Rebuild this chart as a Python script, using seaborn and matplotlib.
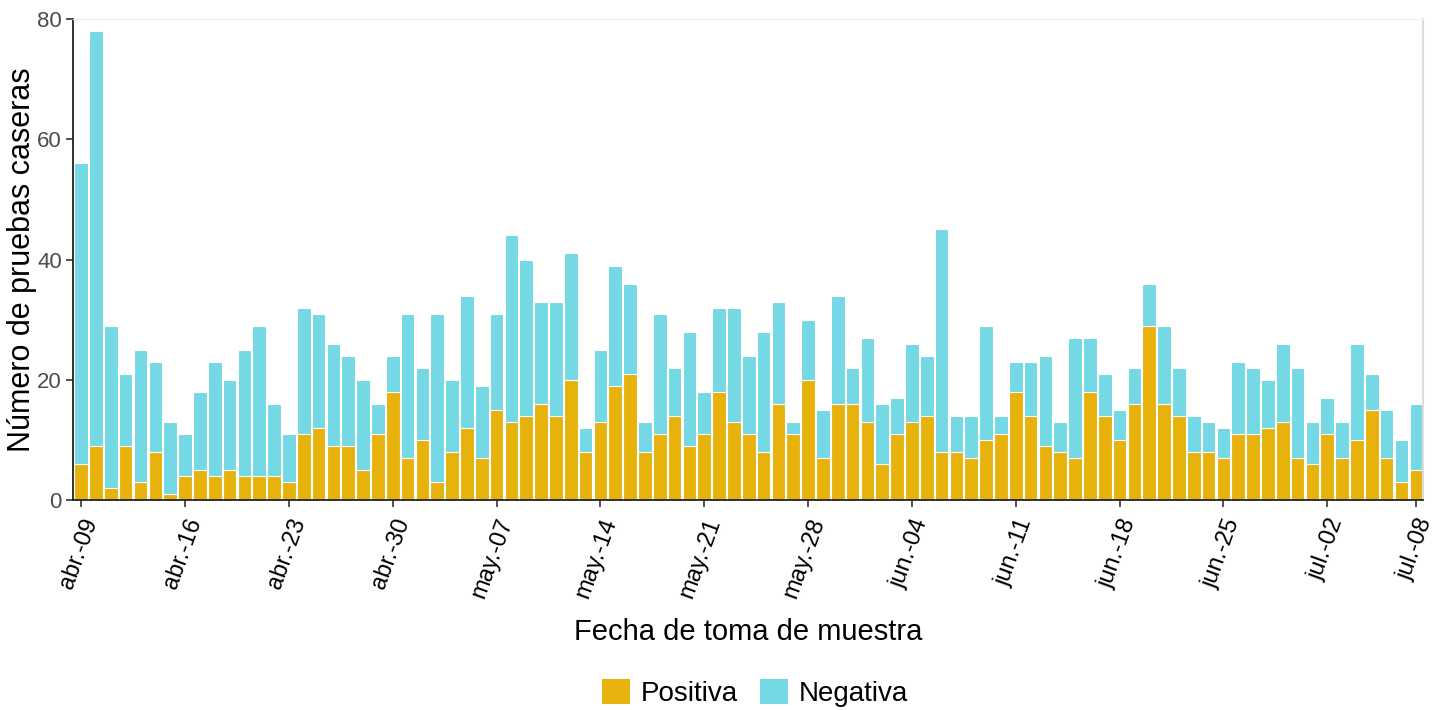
import matplotlib
matplotlib.use("Agg")
import matplotlib.pyplot as plt
from matplotlib.patches import Patch
import seaborn as sns
import pandas as pd
import numpy as np

# ---- data ----
fechas = pd.date_range("2023-04-09", "2023-07-08", freq="D")
total = [56, 78, 29, 21, 25, 23, 13, 11, 18, 23, 20, 25, 29, 16, 11, 32, 31, 26, 24, 20, 16, 24,
         31, 22, 31, 20, 34, 19, 31, 44, 40, 33, 33, 41, 12, 25, 39, 36, 13, 31, 22, 28, 18, 32,
         32, 24, 28, 33, 13, 30, 15, 34, 22, 27, 16, 17, 26, 24, 45, 14, 14, 29, 14, 23, 23, 24,
         13, 27, 27, 21, 15, 22, 36, 29, 22, 14, 13, 12, 23, 22, 20, 26, 22, 13, 17, 13, 26, 21,
         15, 10, 16]
positiva = [6, 9, 2, 9, 3, 8, 1, 4, 5, 4, 5, 4, 4, 4, 3, 11, 12, 9, 9, 5, 11, 18,
            7, 10, 3, 8, 12, 7, 15, 13, 14, 16, 14, 20, 8, 13, 19, 21, 8, 11, 14, 9, 11, 18,
            13, 11, 8, 16, 11, 20, 7, 16, 16, 13, 6, 11, 13, 14, 8, 8, 7, 10, 11, 18, 14, 9,
            8, 7, 18, 14, 10, 16, 29, 16, 14, 8, 8, 7, 11, 11, 12, 13, 7, 6, 11, 7, 10, 15,
            7, 3, 5]
negativa = [t - p for t, p in zip(total, positiva)]
tick_pos = [0, 7, 14, 21, 28, 35, 42, 49, 56, 63, 70, 77, 84, 90]
tick_labels = ["abr.-09", "abr.-16", "abr.-23", "abr.-30", "may.-07", "may.-14", "may.-21",
               "may.-28", "jun.-04", "jun.-11", "jun.-18", "jun.-25", "jul.-02", "jul.-08"]
y_ticks = [0, 20, 40, 60, 80]

col_pos = "#E6B20B"
col_neg = "#74D9E4"

df = pd.DataFrame({"fecha": fechas.strftime("%Y-%m-%d"),
                   "positiva": positiva, "negativa": negativa, "total": total})

sns.set_theme(style="white")
plt.rcParams["font.family"] = ["Liberation Sans", "DejaVu Sans"]

fig = plt.figure(figsize=(14.48, 7.10), dpi=100)
ax = fig.add_axes([73 / 1448, 1 - 500 / 710, (1423 - 73) / 1448, (500 - 19) / 710])

order = list(df["fecha"])
sns.barplot(data=df, x="fecha", y="total", order=order, color=col_neg, width=0.92,
            edgecolor="white", linewidth=0.8, saturation=1, ax=ax)
sns.barplot(data=df, x="fecha", y="positiva", order=order, color=col_pos, width=0.92,
            edgecolor="white", linewidth=0.8, saturation=1, ax=ax)

ax.set_xlim(-0.55, 90.45)
ax.set_ylim(0, 80)
ax.set_yticks(y_ticks)
ax.set_yticklabels([str(v) for v in y_ticks], fontsize=16, color="#4D4D4D")
ax.set_xticks(tick_pos)
ax.set_xticklabels(tick_labels, fontsize=17, color="black", rotation=70,
                   ha="right", va="top", rotation_mode="anchor")
ax.tick_params(axis="both", which="both", length=5, width=1.1, color="#222222",
               bottom=True, left=True, pad=3)
ax.tick_params(axis="x", pad=6)

ax.set_xlabel("Fecha de toma de muestra", fontsize=21, color="black", labelpad=12)
ax.set_ylabel("Número de pruebas caseras", fontsize=22, color="black")
ax.yaxis.set_label_coords(-0.027, 0.5)

for s in ["left", "bottom"]:
    ax.spines[s].set_color("#222222")
    ax.spines[s].set_linewidth(1.3)
ax.spines["top"].set_color("#F0F0F0")
ax.spines["right"].set_color("#DCDCDC")
ax.spines["top"].set_linewidth(1.0)
ax.spines["right"].set_linewidth(1.5)
ax.grid(False)

handles = [Patch(facecolor=col_pos, edgecolor="none", label="Positiva"),
           Patch(facecolor=col_neg, edgecolor="none", label="Negativa")]
fig.legend(handles=handles, loc="center", bbox_to_anchor=(755 / 1448, 1 - 693 / 710),
           ncol=2, frameon=False, fontsize=20, handlelength=1.0, handleheight=1.0,
           handletextpad=0.4, columnspacing=0.8, labelcolor="black")

fig.savefig("out.png", dpi=100)
